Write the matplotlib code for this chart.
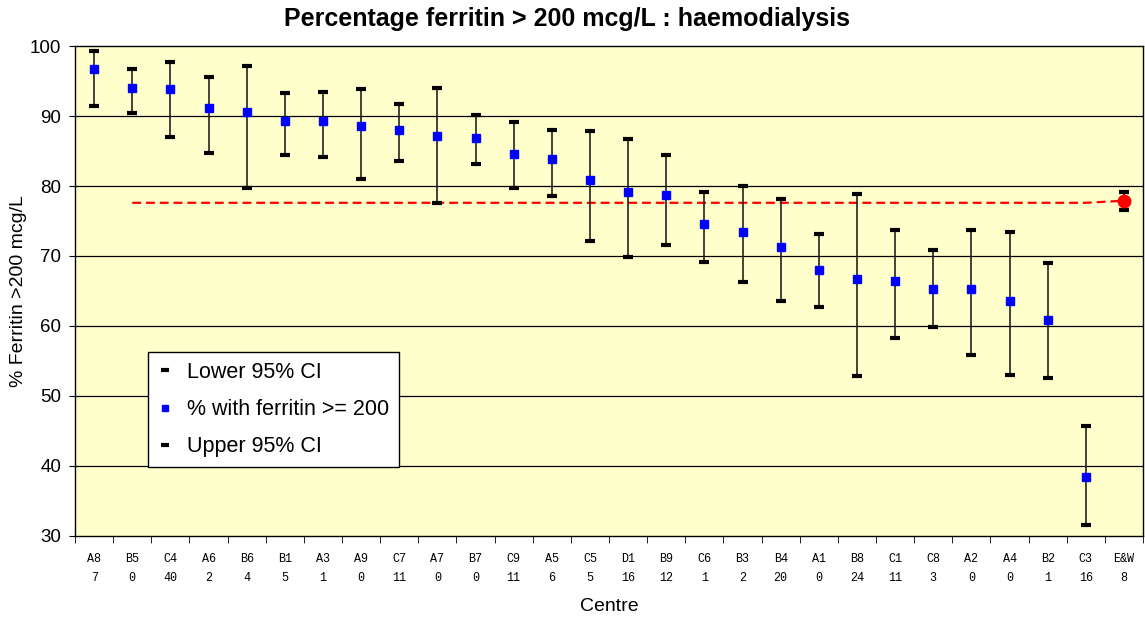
import matplotlib
matplotlib.use("Agg")
import matplotlib.pyplot as plt
from matplotlib.lines import Line2D
import numpy as np

centres = ["A8", "B5", "C4", "A6", "B6", "B1", "A3", "A9", "C7", "A7", "B7", "C9", "A5", "C5",
           "D1", "B9", "C6", "B3", "B4", "A1", "B8", "C1", "C8", "A2", "A4", "B2", "C3", "E&W"]
counts = ["7", "0", "40", "2", "4", "5", "1", "0", "11", "0", "0", "11", "6", "5",
          "16", "12", "1", "2", "20", "0", "24", "11", "3", "0", "0", "1", "16", "8"]
pct = [96.7, 94.0, 93.8, 91.2, 90.6, 89.3, 89.3, 88.6, 88.0, 87.2, 86.8, 84.6, 83.9, 80.8,
       79.1, 78.7, 74.5, 73.4, 71.3, 68.0, 66.7, 66.4, 65.3, 65.3, 63.5, 60.9, 38.4, 77.9]
upper = [99.3, 96.7, 97.7, 95.6, 97.2, 93.3, 93.5, 93.8, 91.7, 94.0, 90.1, 89.1, 88.0, 87.8,
         86.7, 84.4, 79.2, 80.0, 78.1, 73.2, 78.9, 73.7, 70.8, 73.7, 73.4, 69.0, 45.7, 79.2]
lower = [91.4, 90.4, 87.0, 84.7, 79.7, 84.4, 84.1, 81.0, 83.6, 77.6, 83.1, 79.7, 78.6, 72.1,
         69.8, 71.6, 69.2, 66.3, 63.5, 62.7, 52.8, 58.3, 59.9, 55.9, 53.0, 52.5, 31.6, 76.6]
# national average line, drawn from B5 across to the E&W point
avg_line = [77.6] * 26 + [77.9]

plt.rcParams["font.family"] = ["Liberation Sans", "DejaVu Sans"]

fig = plt.figure(figsize=(11.45, 6.2), dpi=100)
ax = fig.add_axes([0.0655, 0.1355, 0.9328, 0.7903])
ax.set_facecolor("#FFFFCC")

x = np.arange(len(centres))
n = len(centres) - 1

ax.set_xlim(-0.5, len(centres) - 0.5)
ax.set_ylim(30, 100)
ax.set_yticks(np.arange(30, 101, 10))
for yv in range(40, 100, 10):
    ax.axhline(yv, color="black", lw=0.9, zorder=1)

ax.plot(x[1:], avg_line, color="red", lw=1.6, ls=(0, (4, 2.2)), zorder=2)
ax.vlines(x, lower, upper, color="#222222", lw=1.2, zorder=3)
ax.plot(x, lower, ls="none", marker="_", ms=7.5, mew=3, color="black", zorder=4)
ax.plot(x, upper, ls="none", marker="_", ms=7.5, mew=3, color="black", zorder=4)
ax.plot(x[:n], pct[:n], ls="none", marker="s", ms=5.5, color="blue", mec="blue", zorder=5)
ax.plot(x[n], pct[n], ls="none", marker="o", ms=9, color="red", zorder=5)

ax.set_xticks(x)
ax.set_xticklabels([f"{c}\n{k}" for c, k in zip(centres, counts)],
                   family="Liberation Mono", fontsize=8.5, linespacing=1.8)
ax.set_xticks(np.arange(-0.5, len(centres), 1), minor=True)
ax.tick_params(axis="x", which="major", length=0, pad=12)
ax.tick_params(axis="x", which="minor", length=5, direction="out")
ax.tick_params(axis="y", labelsize=13.5, length=4, direction="out", pad=6)
for s in ax.spines.values():
    s.set_color("black")
    s.set_linewidth(1.0)

ax.set_xlabel("Centre", fontsize=14, labelpad=10)
ax.set_ylabel("% Ferritin >200 mcg/L", fontsize=14, labelpad=2)
fig.suptitle("Percentage ferritin > 200 mcg/L : haemodialysis", fontsize=18,
             fontweight="bold", x=0.495, y=0.988)

handles = [
    Line2D([], [], ls="none", marker="_", ms=6, mew=3, color="black"),
    Line2D([], [], ls="none", marker="s", ms=4.5, color="blue"),
    Line2D([], [], ls="none", marker="_", ms=6, mew=3, color="black"),
]
leg = ax.legend(handles, ["Lower 95% CI", "% with ferritin >= 200", "Upper 95% CI"],
                loc="upper left", bbox_to_anchor=(0.068, 0.375), fontsize=15.5,
                fancybox=False, framealpha=1, edgecolor="black", handlelength=0.7,
                handletextpad=0.7, labelspacing=0.75, borderpad=0.45, borderaxespad=0)
leg.get_frame().set_linewidth(1.0)

fig.savefig("out.png", dpi=100, facecolor="white")
